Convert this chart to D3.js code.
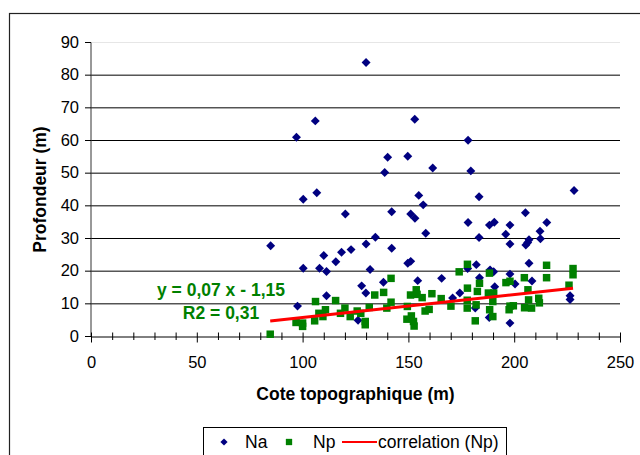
<!DOCTYPE html>
<html>
<head>
<meta charset="utf-8">
<script src="https://cdn.jsdelivr.net/npm/d3@7"></script>
<style>
  body { margin: 0; background: #fff; }
  svg { display: block; font-family: "Liberation Sans", Arial, sans-serif; }
</style>
</head>
<body>
<div class="canvas"></div>
<script>
/////////////////////////////////////////////////
// Data
/////////////////////////////////////////////////

// Na series (cote topographique, profondeur)
const naCote = [84.9, 97.1, 106.0, 100.3, 106.7, 100.3, 97.6, 110.0, 108.0, 111.3,
  111.3, 115.7, 118.4, 120.2, 122.9, 130.0, 130.0, 127.9, 129.9, 131.9,
  134.4, 126.2, 138.8, 140.2, 142.1, 142.1, 138.2, 149.7, 153.0, 151.1,
  153.1, 154.9, 157.0, 158.2, 161.5, 149.7, 151.1, 154.4, 165.7, 170.9,
  174.3, 178.2, 179.5, 178.2, 183.4, 183.4, 178.0, 182.1, 183.6, 188.3,
  190.6, 188.6, 190.3, 190.8, 181.6, 188.2, 196.0, 198.0, 198.0, 198.0,
  200.4, 198.0, 205.3, 205.5, 206.4, 207.0, 207.0, 208.4, 212.2, 212.4,
  215.4, 228.3, 226.4, 226.4];
const naProf = [27.8, 61.0, 66.0, 42.0, 44.0, 20.9, 9.3, 24.8, 20.9, 19.9,
  12.5, 22.9, 25.8, 37.5, 26.6, 83.9, 28.3, 15.5, 13.3, 20.5,
  30.4, 5.0, 50.2, 54.9, 38.2, 27.0, 16.6, 55.2, 66.5, 37.5,
  36.2, 43.2, 40.3, 31.6, 51.6, 22.4, 23.0, 17.1, 17.8, 11.8,
  13.3, 60.1, 50.7, 34.9, 42.8, 30.3, 20.8, 22.0, 18.0, 34.1,
  35.0, 20.4, 19.8, 15.2, 8.7, 5.8, 31.3, 34.1, 28.3, 19.1,
  16.1, 4.1, 37.9, 28.0, 28.8, 29.6, 22.4, 17.0, 32.2, 29.9,
  34.9, 44.7, 11.3, 12.5];

// Np series
const npCote = [84.7, 96.9, 100.0, 100.0, 106.1, 105.7, 107.7, 109.6, 110.8, 115.6,
  117.9, 120.0, 122.5, 125.8, 127.5, 129.6, 129.6, 131.5, 134.1, 138.3,
  141.8, 139.8, 141.8, 149.5, 151.0, 149.3, 151.4, 152.4, 152.7, 153.7,
  154.1, 156.5, 157.9, 159.8, 161.1, 165.5, 170.1, 174.0, 177.9, 177.9,
  177.8, 177.8, 181.6, 182.0, 182.6, 183.6, 188.3, 187.8, 188.4, 189.9,
  189.9, 190.3, 196.1, 198.0, 198.0, 197.6, 199.6, 204.8, 206.5, 204.9,
  206.8, 208.2, 211.6, 211.9, 215.3, 215.3, 225.9, 227.8, 227.8];
const npProf = [0.7, 4.3, 4.1, 3.1, 10.7, 4.8, 7.1, 6.1, 8.2, 11.0,
  7.1, 8.7, 6.1, 7.8, 7.1, 4.6, 3.6, 8.9, 12.7, 13.5,
  17.8, 8.7, 10.5, 9.2, 12.7, 5.3, 6.3, 4.6, 3.2, 14.3,
  12.9, 11.9, 7.8, 8.3, 13.1, 11.6, 9.3, 19.8, 22.1, 14.8,
  11.1, 8.7, 4.8, 9.7, 13.8, 16.3, 19.4, 13.3, 8.2, 6.1,
  10.7, 13.3, 16.5, 16.9, 9.3, 8.2, 9.4, 18.0, 14.3, 8.8,
  11.2, 8.7, 11.7, 10.3, 21.8, 18.0, 15.7, 20.8, 18.9];

// Trend line (Np) as printed on the chart
const trendSlope = 0.07;
const trendIntercept = -1.15;
const equationLabels = ["y = 0,07 x - 1,15", "R2 = 0,31"];

// Axes
const xTicks = [0, 50, 100, 150, 200, 250];
const xMinorTicks = d3.range(0, 251, 10);
const yTicks = [0, 10, 20, 30, 40, 50, 60, 70, 80, 90];
const xTitle = "Cote topographique (m)";
const yTitle = "Profondeur (m)";
const legendLabels = ["Na", "Np", "correlation (Np)"];

/////////////////////////////////////////////////
// Setup
/////////////////////////////////////////////////

const width = 640;
const height = 455;
const plot = { left: 91, right: 620, top: 42.5, bottom: 336.5 };

const navy = "#000080";
const green = "#008000";
const red = "#ff0000";

const svg = d3.select(".canvas").append("svg")
  .attr("width", width)
  .attr("height", height);

// chart border (runs off the picture on the right and bottom)
svg.append("rect")
  .attr("x", 9.5).attr("y", 13.5)
  .attr("width", 700).attr("height", 500)
  .attr("fill", "none").attr("stroke", "#222").attr("stroke-width", 1.2);

// Scales
const x = d3.scaleLinear().domain([0, 250]).range([plot.left, plot.right]);
const y = d3.scaleLinear().domain([0, 90]).range([plot.bottom, plot.top]);

/////////////////////////////////////////////////
// Grid & axes
/////////////////////////////////////////////////

svg.append("g").selectAll("line")
  .data(yTicks.filter((d) => d > 0))
  .join("line")
  .attr("x1", plot.left).attr("x2", plot.right)
  .attr("y1", (d) => y(d)).attr("y2", (d) => y(d))
  .attr("stroke", (d) => (d === 90 ? "#e6e6e6" : "#000"))
  .attr("stroke-width", 1);

const yAxis = d3.axisLeft(y)
  .tickValues(yTicks)
  .tickSize(6)
  .tickSizeOuter(0)
  .tickPadding(6)
  .offset(0);

const yAxisGroup = svg.append("g")
  .attr("transform", `translate(${plot.left},0)`)
  .call(yAxis);
yAxisGroup.select(".domain").attr("stroke", "#333");
yAxisGroup.selectAll(".tick line").attr("stroke", "#000");
yAxisGroup.selectAll(".tick text")
  .attr("font-family", "Liberation Sans, Arial, sans-serif")
  .attr("font-size", 16.5)
  .attr("fill", "#000");

const xAxis = d3.axisBottom(x)
  .tickValues(xMinorTicks)
  .tickSizeOuter(0)
  .tickFormat((d) => (xTicks.includes(d) ? d : ""));

const xAxisGroup = svg.append("g")
  .attr("transform", `translate(0,${plot.bottom})`)
  .call(xAxis);
xAxisGroup.select(".domain").attr("stroke", "#000");
xAxisGroup.selectAll(".tick line")
  .attr("stroke", "#000")
  .attr("y1", -4)
  .attr("y2", (d) => (xTicks.includes(d) ? 6 : 3.5));
xAxisGroup.selectAll(".tick text")
  .attr("font-family", "Liberation Sans, Arial, sans-serif")
  .attr("font-size", 16.5)
  .attr("fill", "#000")
  .attr("y", 31.5)
  .attr("dy", 0);

// Axis titles
svg.append("text")
  .attr("x", (plot.left + plot.right) / 2)
  .attr("y", 400)
  .attr("text-anchor", "middle")
  .attr("font-weight", "bold")
  .attr("font-size", 17.5)
  .text(xTitle);

svg.append("text")
  .attr("transform", `translate(46,${(plot.top + plot.bottom) / 2}) rotate(-90)`)
  .attr("text-anchor", "middle")
  .attr("font-weight", "bold")
  .attr("font-size", 17.5)
  .text(yTitle);

/////////////////////////////////////////////////
// Marks
/////////////////////////////////////////////////

const diamond = d3.symbol(d3.symbolSquare, 40);
const square = d3.symbol(d3.symbolSquare, 56);

svg.append("g").selectAll("path")
  .data(naCote.map((c, i) => [c, naProf[i]]))
  .join("path")
  .attr("d", diamond)
  .attr("transform", (d) => `translate(${x(d[0])},${y(d[1])}) rotate(45)`)
  .attr("fill", navy);

svg.append("g").selectAll("path")
  .data(npCote.map((c, i) => [c, npProf[i]]))
  .join("path")
  .attr("d", square)
  .attr("transform", (d) => `translate(${x(d[0])},${y(d[1])})`)
  .attr("fill", green);

const trendX = d3.extent(npCote);
const trendLine = d3.line()
  .x((d) => x(d))
  .y((d) => y(trendSlope * d + trendIntercept));

svg.append("path")
  .datum(trendX)
  .attr("d", trendLine)
  .attr("fill", "none")
  .attr("stroke", red)
  .attr("stroke-width", 3);

svg.append("g").selectAll("text")
  .data(equationLabels)
  .join("text")
  .attr("x", 221)
  .attr("y", (d, i) => 296 + i * 22.5)
  .attr("text-anchor", "middle")
  .attr("font-weight", "bold")
  .attr("font-size", 17.5)
  .attr("fill", green)
  .text((d) => d);

/////////////////////////////////////////////////
// Legend
/////////////////////////////////////////////////

const legend = svg.append("g").attr("transform", "translate(203,427)");
legend.append("rect")
  .attr("x", 0.5).attr("y", 0.5)
  .attr("width", 303).attr("height", 60)
  .attr("fill", "#fff").attr("stroke", "#000");

legend.append("path")
  .attr("d", d3.symbol(d3.symbolSquare, 26)())
  .attr("transform", "translate(21,15) rotate(45)")
  .attr("fill", navy);
legend.append("path")
  .attr("d", d3.symbol(d3.symbolSquare, 40)())
  .attr("transform", "translate(86,15)")
  .attr("fill", green);
legend.append("line")
  .attr("x1", 139).attr("x2", 174)
  .attr("y1", 15).attr("y2", 15)
  .attr("stroke", red).attr("stroke-width", 2);

legend.selectAll(".legend-text")
  .data(legendLabels)
  .join("text")
  .attr("class", "legend-text")
  .attr("x", (d, i) => [42, 110, 175][i])
  .attr("y", 21)
  .attr("font-size", 17.5)
  .text((d) => d);
</script>
</body>
</html>
